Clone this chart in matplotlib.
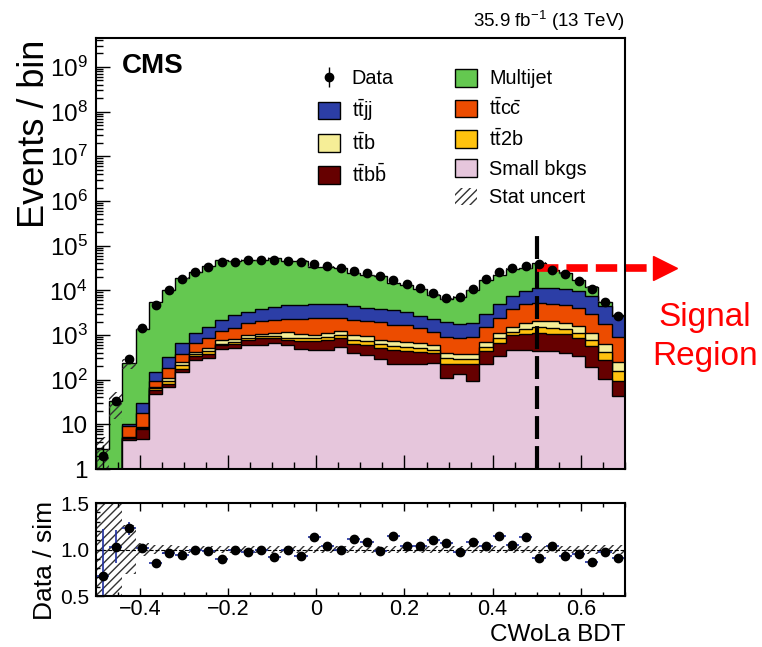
import numpy as np
import matplotlib
matplotlib.use("Agg")
import matplotlib.pyplot as plt
from matplotlib.patches import Patch
from matplotlib.ticker import LogLocator, NullFormatter, MultipleLocator

plt.rcParams['font.family'] = ['Liberation Sans', 'DejaVu Sans']
plt.rcParams['mathtext.fontset'] = 'custom'
plt.rcParams['mathtext.rm'] = 'Liberation Sans'
plt.rcParams['mathtext.it'] = 'Liberation Sans:italic'
plt.rcParams['mathtext.bf'] = 'Liberation Sans:bold'
plt.rcParams['hatch.linewidth'] = 1.0

# BDT binning
edges = np.linspace(-0.5, 0.7, 41)
centers = 0.5 * (edges[1:] + edges[:-1])
half_width = 0.5 * (edges[1] - edges[0])

data = np.array([2, 34, 285, 1400, 4600, 10000, 18000, 26000, 34000, 42000,
                 44000, 47000, 47000, 49000, 44500, 43000, 38000, 35000, 31000, 27000,
                 24000, 20700, 16900, 14000, 11000, 8700, 6800, 7000, 10800, 17500,
                 25500, 31500, 35000, 38000, 29000, 22700, 16100, 10500, 5450, 2600])

small_bkgs = np.array([0, 0, 4.4, 4.6, 48, 69, 148, 274, 299, 475,
                       520, 590, 594, 658, 594, 475, 452, 452, 536, 387,
                       349, 284, 228, 228, 228, 240, 111, 136, 93, 225,
                       337, 452, 467, 437, 437, 400, 337, 191, 102, 43])
ttbb = np.array([0, 0, 0.6, 3.1, 10, 12, 28, 63, 81, 109,
                 120, 180, 243, 208, 188, 255, 278, 330, 301, 243,
                 245, 226, 224, 209, 192, 155, 109, 84, 135, 212,
                 333, 526, 598, 683, 628, 665, 529, 373, 172, 53])
tt2b = np.array([0, 0, 0.05, 0.5, 8, 12, 36, 30, 57, 53,
                 60, 97, 108, 94, 98, 107, 107, 116, 141, 130,
                 136, 105, 103, 99, 80, 72, 89, 64, 66, 99,
                 196, 202, 265, 380, 335, 265, 254, 191, 140, 60])
ttb = np.array([0, 0, 0.05, 0.6, 3, 18, 40, 47, 63, 118,
                100, 129, 120, 160, 270, 193, 163, 222, 262, 240,
                210, 167, 175, 169, 158, 127, 91, 83, 86, 169,
                254, 320, 550, 550, 650, 550, 460, 365, 201, 96])
ttcc = np.array([0, 0, 4.1, 9.2, 27, 74, 128, 256, 337, 465,
                 650, 885, 985, 1070, 1110, 1290, 1430, 1310, 1190, 1150,
                 1110, 1128, 990, 935, 762, 596, 498, 470, 533, 795,
                 1310, 2230, 2950, 3210, 3000, 2700, 2490, 1770, 1165, 650])
ttjj = np.array([0, 0, 1.1, 12, 54, 135, 267, 450, 693, 930,
                 1340, 1430, 1680, 2020, 2320, 2330, 2400, 2400, 2400, 2280,
                 2020, 1940, 1880, 1610, 1280, 1060, 1082, 943, 967, 1490,
                 2570, 3690, 4760, 6140, 6400, 6220, 5520, 4530, 2650, 1750])
multijet = np.array([2.8, 33, 222, 1343, 5200, 10080, 18500, 24880, 33170, 44520,
                     41650, 45140, 43270, 49050, 40370, 41590, 28500, 28820, 26170, 19890,
                     18150, 17270, 11220, 10210, 7880, 5660, 4375, 5436, 8120, 13840,
                     17170, 22580, 21380, 30360, 16430, 13600, 7360, 4650, 1190, 200])
# relative MC statistical uncertainty per bin
stat_rel = np.array([0.9, 0.6, 0.26, 0.07, 0.05, 0.045, 0.04, 0.04, 0.035, 0.035,
                     0.035, 0.035, 0.035, 0.035, 0.035, 0.035, 0.035, 0.035, 0.035, 0.035,
                     0.035, 0.035, 0.035, 0.035, 0.035, 0.035, 0.035, 0.035, 0.035, 0.035,
                     0.035, 0.035, 0.035, 0.04, 0.04, 0.04, 0.04, 0.045, 0.045, 0.05])

stack = [
    (small_bkgs, '#e6c6dc', 'Small bkgs'),
    (ttbb, '#660000', r't$\bar{\rm t}$b$\bar{\rm b}$'),
    (tt2b, '#ffc20e', r't$\bar{\rm t}$2b'),
    (ttb, '#f6ee97', r't$\bar{\rm t}$b'),
    (ttcc, '#ec4c00', r't$\bar{\rm t}$c$\bar{\rm c}$'),
    (ttjj, '#2c3ea6', r't$\bar{\rm t}$jj'),
    (multijet, '#64c850', 'Multijet'),
]
colors = {lab: col for _, col, lab in stack}

cum = np.cumsum([s for s, _, _ in stack], axis=0)
mc = cum[-1]
floor = 1e-2

fig = plt.figure(figsize=(7.62, 6.47), dpi=100)
ax = fig.add_axes([0.126, 0.275, 0.694, 0.666])
axr = fig.add_axes([0.126, 0.0788, 0.694, 0.1437])

# stacked histogram, drawn from the top layer down
for top, (_, col, _) in reversed(list(zip(cum, stack))):
    ax.stairs(np.maximum(top, floor), edges, baseline=floor, fill=True,
              facecolor=col, edgecolor='k', linewidth=1.0)

ax.stairs(mc * (1 + stat_rel), edges, baseline=np.maximum(mc * (1 - stat_rel), floor),
          fill=True, facecolor='none', edgecolor='#333333', hatch='////', linewidth=0)

data_h = ax.errorbar(centers, data, yerr=np.sqrt(data), fmt='o', color='k',
                     ms=6, lw=1, capsize=0)

# signal region boundary
ax.plot([0.5, 0.5], [1, 2.3e5], color='k', lw=3, dashes=(5.5, 1.7))
ax.plot([0.5, 0.772], [3.1e4, 3.1e4], color='#ff0000', lw=5.5, dashes=(2.8, 1.05),
        clip_on=False, solid_capstyle='butt')
ax.plot([0.79], [3.1e4], marker='>', color='#ff0000', ms=17, clip_on=False)
fig.text(705 / 762, 1 - 337 / 647, 'Signal\nRegion', color='#ff0000', fontsize=24,
         ha='center', va='center', linespacing=1.3)

ax.set_yscale('log')
ax.set_xlim(-0.5, 0.7)
ax.set_ylim(1, 4.4e9)
ax.set_yticks([10.0 ** k for k in range(10)])
ax.set_yticklabels(['1', '10'] + [f'$10^{{{k}}}$' for k in range(2, 10)])
ax.yaxis.set_minor_locator(LogLocator(base=10, subs=np.arange(2, 10), numticks=20))
ax.yaxis.set_minor_formatter(NullFormatter())
ax.xaxis.set_major_locator(MultipleLocator(0.2))
ax.xaxis.set_minor_locator(MultipleLocator(0.05))
ax.tick_params(which='both', direction='in', labelbottom=False, labelsize=17.5,
               width=1.0, pad=6)
ax.tick_params(which='major', length=10)
ax.tick_params(which='minor', length=5)
for sp in ax.spines.values():
    sp.set_linewidth(1.5)

ax.text(0.049, 0.965, 'CMS', transform=ax.transAxes, fontsize=20, fontweight='bold',
        ha='left', va='top')
ax.text(1.0, 1.012, r'35.9 fb$^{-1}$ (13 TeV)', transform=ax.transAxes, fontsize=13.5,
        ha='right', va='bottom')
fig.text(35 / 762, 1 - 40 / 647, 'Events / bin', rotation=90, fontsize=26,
         ha='center', va='top')

handles = [
    data_h,
    Patch(facecolor=colors[r't$\bar{\rm t}$jj'], edgecolor='k'),
    Patch(facecolor=colors[r't$\bar{\rm t}$b'], edgecolor='k'),
    Patch(facecolor=colors[r't$\bar{\rm t}$b$\bar{\rm b}$'], edgecolor='k'),
    Patch(facecolor='none', edgecolor='none'),
    Patch(facecolor=colors['Multijet'], edgecolor='k'),
    Patch(facecolor=colors[r't$\bar{\rm t}$c$\bar{\rm c}$'], edgecolor='k'),
    Patch(facecolor=colors[r't$\bar{\rm t}$2b'], edgecolor='k'),
    Patch(facecolor=colors['Small bkgs'], edgecolor='k'),
    Patch(facecolor='white', edgecolor='#333333', hatch='////', linewidth=0),
]
labels = ['Data', r't$\bar{\rm t}$jj', r't$\bar{\rm t}$b', r't$\bar{\rm t}$b$\bar{\rm b}$', '',
          'Multijet', r't$\bar{\rm t}$c$\bar{\rm c}$', r't$\bar{\rm t}$2b', 'Small bkgs',
          'Stat uncert']
ax.legend(handles, labels, ncol=2, loc='upper left', bbox_to_anchor=(0.401, 0.952),
          frameon=False, fontsize=14.3, borderpad=0, handlelength=1.1,
          handleheight=1.0, labelspacing=0.45, handletextpad=0.6, columnspacing=3.1)

# ratio panel
ratio = data / mc
ratio_err = np.sqrt(data) / mc
axr.stairs(1 + stat_rel, edges, baseline=1 - stat_rel, fill=True, facecolor='none',
           edgecolor='#333333', hatch='////', linewidth=0)
axr.axhline(1.0, color='k', lw=0.8, ls='--')
axr.errorbar(centers, ratio, xerr=half_width, yerr=ratio_err, fmt='o', mfc='k', mec='k',
             ecolor='#1f2fa0', ms=6, elinewidth=1.2, capsize=0)
axr.set_xlim(-0.5, 0.7)
axr.set_ylim(0.5, 1.5)
axr.set_yticks([0.5, 1.0, 1.5])
axr.set_yticklabels(['0.5', '1.0', '1.5'])
axr.yaxis.set_minor_locator(MultipleLocator(0.1))
axr.xaxis.set_major_locator(MultipleLocator(0.2))
axr.xaxis.set_minor_locator(MultipleLocator(0.05))
axr.set_xticks([-0.4, -0.2, 0.0, 0.2, 0.4, 0.6])
axr.set_xticklabels(['\u22120.4', '\u22120.2', '0', '0.2', '0.4', '0.6'])
axr.tick_params(which='both', direction='in', top=True, width=1.0)
axr.tick_params(axis='x', labelsize=15.5, pad=2.5)
axr.tick_params(axis='y', labelsize=15, pad=5)
axr.tick_params(which='major', length=6)
axr.tick_params(which='minor', length=3)
for sp in axr.spines.values():
    sp.set_linewidth(1.5)

fig.text(45 / 762, 1 - 560 / 647, 'Data / sim', rotation=90, fontsize=19,
         ha='center', va='center')
fig.text(625 / 762, 1 - 646 / 647, 'CWoLa BDT', fontsize=17.5, ha='right', va='bottom')

fig.savefig('out.png', dpi=100)
